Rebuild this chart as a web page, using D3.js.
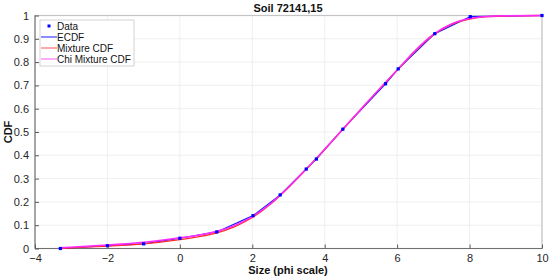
<!DOCTYPE html>
<html>
<head>
<meta charset="utf-8">
<script src="https://cdn.jsdelivr.net/npm/d3@7"></script>
<style>
  body { margin: 0; background: #fff; }
  text { font-family: "Liberation Sans", Arial, sans-serif; }
</style>
</head>
<body>
<svg id="chart" width="550" height="278"></svg>
<script>
// measured sizes (phi) and cumulative fractions
const dataX = [-3.3, -2, -1, 0, 1.02, 2.02, 2.77, 3.49, 3.77, 4.5, 5.68, 6.03, 7.04, 8.02, 10];
const dataY = [0.0, 0.012, 0.02, 0.044, 0.071, 0.141, 0.23, 0.341, 0.384, 0.512, 0.707, 0.771, 0.922, 0.995, 1.0];

// fitted curves, sampled along x
const curveX   = [-3.3, -3, -2, -1, 0, 0.5, 1, 1.5, 2, 2.5, 3, 3.5, 4, 4.5, 5, 5.5, 6, 6.5, 7, 7.5, 8, 8.5, 9, 10];
const mixture  = [0.0, 0.003, 0.01, 0.02, 0.038, 0.05, 0.066, 0.093, 0.133, 0.19, 0.262, 0.342, 0.426, 0.512, 0.598, 0.683, 0.765, 0.848, 0.917, 0.962, 0.985, 0.995, 0.998, 1.0];
const chiMix   = [0.003, 0.006, 0.015, 0.027, 0.046, 0.057, 0.073, 0.098, 0.137, 0.192, 0.263, 0.342, 0.426, 0.512, 0.598, 0.683, 0.766, 0.85, 0.919, 0.964, 0.987, 0.996, 0.999, 1.0];

const xTicks = [-4, -2, 0, 2, 4, 6, 8, 10];
const yTicks = [0, 0.1, 0.2, 0.3, 0.4, 0.5, 0.6, 0.7, 0.8, 0.9, 1];

const svg = d3.select('#chart');
const pLeft = 35, pRight = 542, pTop = 15.5, pBottom = 248.5;

let x = d3.scaleLinear().domain([-4, 10]).range([pLeft, pRight]);
let y = d3.scaleLinear().domain([0, 1]).range([pBottom, pTop]);

// grid
svg.append('g').selectAll('line').data(xTicks).join('line')
  .attr('x1', d => x(d)).attr('x2', d => x(d))
  .attr('y1', pTop).attr('y2', pBottom)
  .attr('stroke', '#ebebeb').attr('stroke-width', 0.8);
svg.append('g').selectAll('line').data(yTicks).join('line')
  .attr('x1', pLeft).attr('x2', pRight)
  .attr('y1', d => y(d)).attr('y2', d => y(d))
  .attr('stroke', '#ebebeb').attr('stroke-width', 0.8);

// axes box
svg.append('rect').attr('x', pLeft).attr('y', pTop)
  .attr('width', pRight - pLeft).attr('height', pBottom - pTop)
  .attr('fill', 'none').attr('stroke', '#c4c4c4').attr('stroke-width', 1.2);
svg.append('line').attr('x1', pLeft).attr('x2', pRight).attr('y1', pBottom).attr('y2', pBottom)
  .attr('stroke', '#5a5a5a').attr('stroke-width', 0.8);
svg.append('line').attr('x1', pLeft).attr('x2', pLeft).attr('y1', pTop).attr('y2', pBottom)
  .attr('stroke', '#5a5a5a').attr('stroke-width', 0.8);

let xAxis = d3.axisBottom(x).tickValues(xTicks).tickSize(-4).tickPadding(6).tickFormat(d3.format('d'));
let gx = svg.append('g').attr('transform', `translate(0,${pBottom})`).call(xAxis);
gx.select('.domain').remove();
gx.selectAll('line').attr('stroke', '#5a5a5a');
gx.selectAll('text').attr('font-size', 11).attr('fill', '#262626');

let yAxis = d3.axisLeft(y).tickValues(yTicks).tickSize(-4).tickPadding(6).tickFormat(d => String(+d.toFixed(1)));
let gy = svg.append('g').attr('transform', `translate(${pLeft},0)`).call(yAxis);
gy.select('.domain').remove();
gy.selectAll('line').attr('stroke', '#5a5a5a');
gy.selectAll('text').attr('font-size', 11).attr('fill', '#262626');

// lines
let ecdfLine = d3.line().x(d => x(d[0])).y(d => y(d[1]));
let smooth = d3.line().curve(d3.curveMonotoneX).x(d => x(d[0])).y(d => y(d[1]));

svg.append('path').datum(d3.zip(dataX, dataY))
  .attr('d', ecdfLine).attr('fill', 'none').attr('stroke', '#1a1aff').attr('stroke-width', 1.2);
svg.append('path').datum(d3.zip(curveX, mixture))
  .attr('d', smooth).attr('fill', 'none').attr('stroke', '#ff2a2a').attr('stroke-width', 1.4);
svg.append('path').datum(d3.zip(curveX, chiMix))
  .attr('d', smooth).attr('fill', 'none').attr('stroke', '#ff2aff').attr('stroke-width', 1.4);

// data markers
svg.append('g').selectAll('rect').data(d3.zip(dataX, dataY)).join('rect')
  .attr('x', d => x(d[0]) - 1.6).attr('y', d => y(d[1]) - 1.6)
  .attr('width', 3.2).attr('height', 3.2).attr('fill', '#0000ff');

// titles
svg.append('text').attr('x', 288).attr('y', 12).attr('text-anchor', 'middle')
  .attr('font-size', 11).attr('font-weight', 'bold').attr('fill', '#111').text('Soil 72141,15');
svg.append('text').attr('x', 288).attr('y', 274).attr('text-anchor', 'middle')
  .attr('font-size', 11).attr('font-weight', 'bold').attr('fill', '#111').text('Size (phi scale)');
svg.append('text').attr('transform', `translate(12,${(pTop + pBottom) / 2}) rotate(-90)`)
  .attr('text-anchor', 'middle').attr('font-size', 11).attr('font-weight', 'bold').attr('fill', '#111').text('CDF');

// legend
const legendNames = ['Data', 'ECDF', 'Mixture CDF', 'Chi Mixture CDF'];
const legendColors = ['#0000ff', '#1a1aff', '#ff5555', '#ff55ff'];
let lg = svg.append('g').attr('transform', 'translate(40,20)');
lg.append('rect').attr('width', 94).attr('height', 46)
  .attr('fill', '#fff').attr('stroke', '#c8c8c8').attr('stroke-width', 0.8);
legendNames.forEach((name, i) => {
  let yy = 6 + i * 11;
  if (i === 0) {
    lg.append('rect').attr('x', 7.5).attr('y', yy - 1.5).attr('width', 3).attr('height', 3).attr('fill', legendColors[i]);
  } else {
    lg.append('line').attr('x1', 1).attr('x2', 17).attr('y1', yy).attr('y2', yy)
      .attr('stroke', legendColors[i]).attr('stroke-width', 1);
  }
  lg.append('text').attr('x', 17).attr('y', yy + 3.5).attr('font-size', 10).attr('fill', '#111').text(name);
});
</script>
</body>
</html>
